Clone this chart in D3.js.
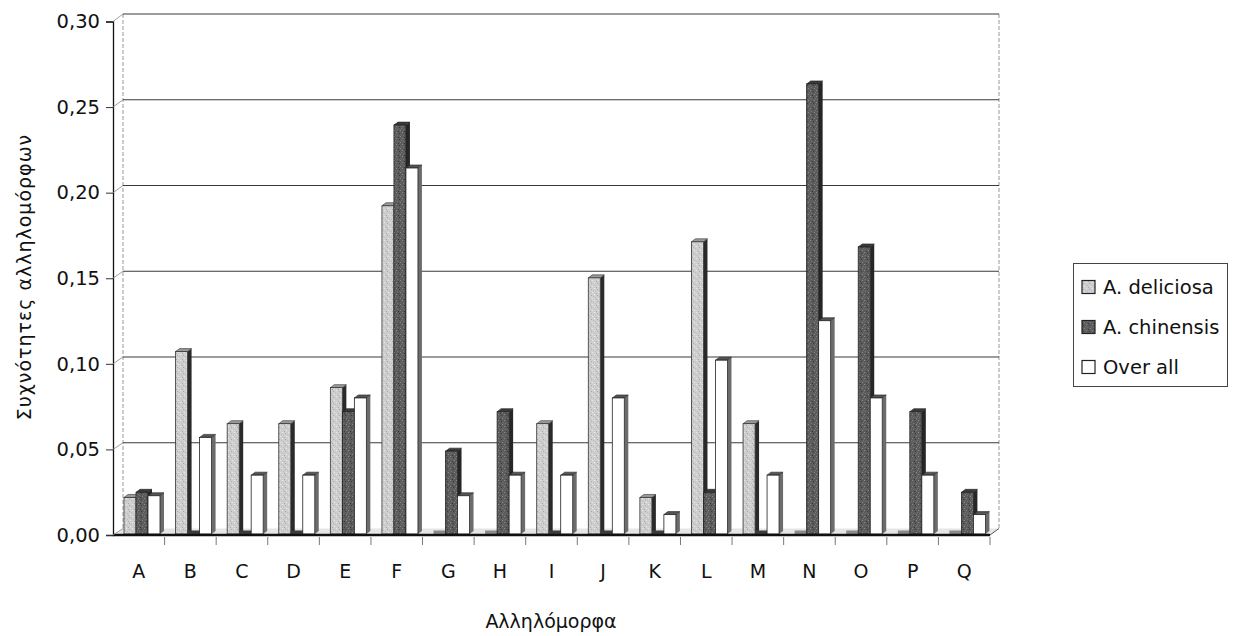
<!DOCTYPE html>
<html>
<head>
<meta charset="utf-8">
<script src="https://cdn.jsdelivr.net/npm/d3@7"></script>
<style>
  html, body { margin: 0; padding: 0; background: #fff; }
  svg text { font-family: "Comic Sans MS", "DejaVu Sans", sans-serif; fill: #111; }
</style>
</head>
<body>
<svg id="chart" width="1236" height="636"></svg>
<script>
const categories = ["A","B","C","D","E","F","G","H","I","J","K","L","M","N","O","P","Q"];
const seriesNames = ["A. deliciosa", "A. chinensis", "Over all"];
const deliciosa = [0.021, 0.106, 0.064, 0.064, 0.085, 0.191, 0, 0, 0.064, 0.149, 0.021, 0.170, 0.064, 0, 0, 0, 0];
const chinensis = [0.024, 0, 0, 0, 0.071, 0.238, 0.048, 0.071, 0, 0, 0, 0.024, 0, 0.262, 0.167, 0.071, 0.024];
const overall   = [0.022, 0.056, 0.034, 0.034, 0.079, 0.213, 0.022, 0.034, 0.034, 0.079, 0.011, 0.101, 0.034, 0.124, 0.079, 0.034, 0.011];
const yTicks = [0, 0.05, 0.10, 0.15, 0.20, 0.25, 0.30];
const yTitle = "Συχνότητες αλληλομόρφων";
const xTitle = "Αλληλόμορφα";

const seriesValues = [deliciosa, chinensis, overall];
const styles = [
  { front: "url(#patDel)", side: "#2a2a2a", top: "#9a9a9a", stroke: "#333" },
  { front: "url(#patChi)", side: "#262626", top: "#3a3a3a", stroke: "#222" },
  { front: "#ffffff", side: "#6c6c6c", top: "#555", stroke: "#222" }
];

const svg = d3.select("#chart");
const defs = svg.append("defs");

function makePattern(id, base, dotColors) {
  const p = defs.append("pattern").attr("id", id).attr("patternUnits", "userSpaceOnUse")
    .attr("width", 6).attr("height", 6);
  p.append("rect").attr("width", 6).attr("height", 6).attr("fill", base);
  const pts = [[0,0],[3,1],[1,3],[4,4],[2,5],[5,2]];
  pts.forEach((q, i) => p.append("rect").attr("x", q[0]).attr("y", q[1]).attr("width", 1).attr("height", 1)
    .attr("fill", dotColors[i % dotColors.length]));
}
makePattern("patDel", "#cfcfcf", ["#e8e8e8", "#a8a8a8", "#bdbdbd"]);
makePattern("patChi", "#5c5c5c", ["#8a8a8a", "#3a3a3a", "#747474"]);

const xAxisLeft = 113, xAxisRight = 990;
const depthX = 9;
const x = d3.scaleBand().domain(categories).range([xAxisLeft, xAxisRight]).padding(0);
const inner = d3.scaleBand().domain(seriesNames).range([11, 47]).padding(0);
const yWall = d3.scaleLinear().domain([0, 0.3]).range([528.5, 14]);
const yBar = d3.scaleLinear().domain([0, 0.3]).range([530.5, 15.7]);
const yFront = d3.scaleLinear().domain([0, 0.3]).range([535, 21.5]);

const wallL = xAxisLeft + depthX + 1, wallR = xAxisRight + depthX;
svg.append("line").attr("x1", wallL).attr("x2", wallL).attr("y1", yWall(0.3)).attr("y2", yWall(0))
  .attr("stroke", "#999").attr("stroke-dasharray", "4,2");
svg.append("line").attr("x1", wallR).attr("x2", wallR).attr("y1", yWall(0.3)).attr("y2", yWall(0))
  .attr("stroke", "#999").attr("stroke-dasharray", "4,2");

svg.append("g").selectAll("line").data(yTicks.filter(t => t > 0)).join("line")
  .attr("x1", wallL).attr("x2", wallR)
  .attr("y1", d => yWall(d)).attr("y2", d => yWall(d))
  .attr("stroke", "#3a3a3a").attr("stroke-width", 1.1);

// floor
svg.append("path")
  .attr("d", `M${xAxisLeft},535 L${xAxisRight},535 L${wallR},${yWall(0)} L${wallL},${yWall(0)} Z`)
  .attr("fill", "#e6e6e6").attr("stroke", "none");

const gBars = svg.append("g");
const bw = inner.bandwidth();
const sd = 4, td = 3;
categories.forEach((c, ci) => {
  seriesNames.forEach((s, si) => {
    const v = seriesValues[si][ci];
    const st = styles[si];
    const x0 = x(c) + inner(s);
    const yTop = yBar(v);
    const yBase = 534;
    if (v === 0) {
      gBars.append("rect").attr("x", x0).attr("y", 530.5).attr("width", bw + sd).attr("height", 3.5)
        .attr("fill", si === 0 ? "#8a8a8a" : "#3c3c3c");
      return;
    }
    gBars.append("path")
      .attr("d", `M${x0 + bw},${yTop + td} L${x0 + bw + sd},${yTop} L${x0 + bw + sd},${yBase - td} L${x0 + bw},${yBase} Z`)
      .attr("fill", st.side);
    gBars.append("path")
      .attr("d", `M${x0},${yTop + td} L${x0 + sd},${yTop} L${x0 + bw + sd},${yTop} L${x0 + bw},${yTop + td} Z`)
      .attr("fill", st.top).attr("stroke", st.stroke).attr("stroke-width", 0.6);
    gBars.append("rect").attr("x", x0).attr("y", yTop + td).attr("width", bw).attr("height", yBase - yTop - td)
      .attr("fill", st.front).attr("stroke", st.stroke).attr("stroke-width", 0.8);
  });
});

svg.append("line").attr("x1", xAxisLeft).attr("x2", xAxisRight).attr("y1", 535).attr("y2", 535)
  .attr("stroke", "#111").attr("stroke-width", 2.5);
svg.append("line").attr("x1", xAxisRight).attr("x2", wallR).attr("y1", 535).attr("y2", yWall(0))
  .attr("stroke", "#555").attr("stroke-width", 1);

const yAxis = d3.axisLeft(yFront).tickValues(yTicks).tickSize(7).tickPadding(6)
  .tickFormat(d => d3.format(".2f")(d).replace(".", ","));
const gy = svg.append("g").attr("transform", `translate(${xAxisLeft},0)`).call(yAxis);
gy.select(".domain").attr("stroke", "#111").attr("stroke-width", 1.3);
gy.selectAll(".tick line").attr("stroke", "#333");
gy.selectAll(".tick text").attr("font-size", 19.5).attr("fill", "#111")
  .style("font-family", '"Comic Sans MS", "DejaVu Sans", sans-serif');
svg.append("g").selectAll("line").data(yTicks).join("line")
  .attr("x1", xAxisLeft).attr("y1", d => yFront(d))
  .attr("x2", wallL).attr("y2", d => yWall(d))
  .attr("stroke", "#888").attr("stroke-width", 0.8);

const xAxis = d3.axisBottom(x).tickSize(0).tickPadding(30);
const gx = svg.append("g").attr("transform", "translate(0,535)").call(xAxis);
gx.select(".domain").remove();
gx.selectAll(".tick text").attr("font-size", 19).attr("fill", "#111")
  .style("font-family", '"Comic Sans MS", "DejaVu Sans", sans-serif');
svg.append("g").selectAll("line").data(categories).join("line")
  .attr("x1", d => x(d) + x.bandwidth()).attr("x2", d => x(d) + x.bandwidth())
  .attr("y1", 537).attr("y2", 545)
  .attr("stroke", "#777").attr("stroke-width", 1);

svg.append("text").attr("transform", "translate(31,277) rotate(-90)")
  .attr("text-anchor", "middle").attr("font-size", 19).attr("letter-spacing", 1).text(yTitle);
svg.append("text").attr("x", 551).attr("y", 628)
  .attr("text-anchor", "middle").attr("font-size", 19).text(xTitle);

const lg = svg.append("g");
lg.append("rect").attr("x", 1073.5).attr("y", 263.5).attr("width", 154).attr("height", 123)
  .attr("fill", "#fff").attr("stroke", "#444").attr("stroke-width", 1);
const legendFill = ["url(#patDel)", "url(#patChi)", "#fff"];
seriesNames.forEach((s, i) => {
  const cy = 287 + i * 40;
  lg.append("rect").attr("x", 1082).attr("y", cy - 6.5).attr("width", 13).attr("height", 13)
    .attr("fill", legendFill[i]).attr("stroke", "#222").attr("stroke-width", 1.2);
  lg.append("text").attr("x", 1103).attr("y", cy + 7).attr("font-size", 19.5).text(s);
});
</script>
</body>
</html>
